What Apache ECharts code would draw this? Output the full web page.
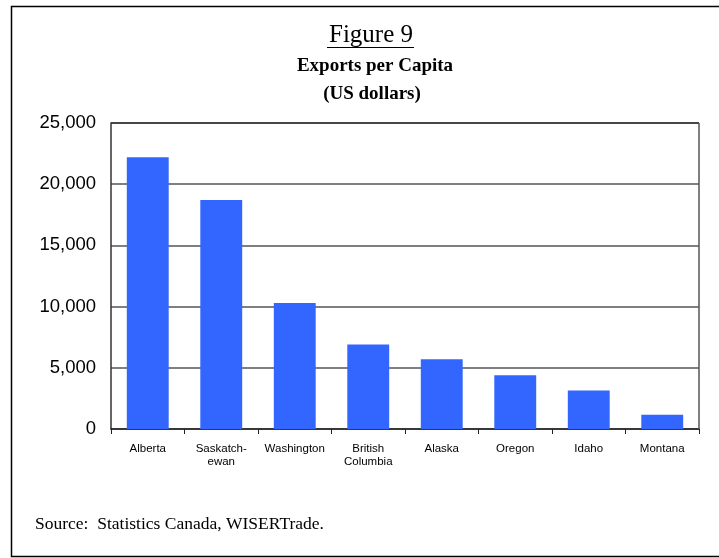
<!DOCTYPE html>
<html>
<head>
<meta charset="utf-8">
<script src="https://cdn.jsdelivr.net/npm/echarts@6/dist/echarts.min.js"></script>
<style>
html,body{margin:0;padding:0;background:#fff;}
#chart{width:719px;height:558px;}
</style>
</head>
<body>
<div id="chart"></div>
<script>
const categories = ['Alberta', 'Saskatch-\newan', 'Washington', 'British\nColumbia', 'Alaska', 'Oregon', 'Idaho', 'Montana'];
const exportsPerCapita = [22200, 18700, 10300, 6900, 5700, 4400, 3150, 1170];
const titleLine1 = 'Figure 9';
const titleLine2 = 'Exports per Capita';
const titleLine3 = '(US dollars)';
const sourceText = 'Source:  Statistics Canada, WISERTrade.';

const chart = echarts.init(document.getElementById('chart'), null, {renderer: 'canvas'});
const serif = '"Liberation Serif", "DejaVu Serif", serif';
const sans = '"Liberation Sans", Arial, sans-serif';

chart.setOption({
  animation: false,
  backgroundColor: '#fff',
  grid: {left: 111, right: 20, top: 123, bottom: 129, containLabel: false},
  graphic: [
    {type: 'rect', shape: {x: 11.5, y: 6.5, width: 720, height: 550}, style: {fill: 'none', stroke: '#000', lineWidth: 1.5}, silent: true},
    {type: 'text', style: {text: titleLine1, x: 371, y: 35.5, align: 'center', verticalAlign: 'middle', font: '25px ' + serif, fill: '#000'}},
    {type: 'line', shape: {x1: 327, y1: 47.5, x2: 414, y2: 47.5}, style: {stroke: '#000', lineWidth: 1}},
    {type: 'text', style: {text: titleLine2, x: 375, y: 66.5, align: 'center', verticalAlign: 'middle', font: 'bold 19px ' + serif, fill: '#000'}},
    {type: 'text', style: {text: titleLine3, x: 372, y: 94, align: 'center', verticalAlign: 'middle', font: 'bold 19px ' + serif, fill: '#000'}},
    {type: 'text', style: {text: sourceText, x: 35, y: 524, align: 'left', verticalAlign: 'middle', font: '17.5px ' + serif, fill: '#000'}},
    {type: 'line', shape: {x1: 111, y1: 123, x2: 699, y2: 123}, style: {stroke: '#333', lineWidth: 1.5}, z: 10},
    {type: 'line', shape: {x1: 699, y1: 123, x2: 699, y2: 429}, style: {stroke: '#555', lineWidth: 1.5}, z: 10}
  ],
  xAxis: {
    type: 'category',
    data: categories,
    axisLine: {show: true, lineStyle: {color: '#222', width: 1.5}},
    axisTick: {show: true, length: 5, interval: 0, lineStyle: {color: '#222'}},
    axisLabel: {interval: 0, margin: 14, color: '#000', fontSize: 11.5, fontFamily: sans, lineHeight: 12.5},
    splitLine: {show: false}
  },
  yAxis: {
    type: 'value',
    min: 0,
    max: 25000,
    interval: 5000,
    axisLine: {show: true, lineStyle: {color: '#333', width: 1.5}},
    axisTick: {show: false},
    axisLabel: {margin: 15, color: '#000', fontSize: 18.5, fontFamily: sans,
      formatter: v => v.toLocaleString('en-US')},
    splitLine: {show: true, lineStyle: {color: '#555', width: 1.5}}
  },
  series: [{
    type: 'bar',
    data: exportsPerCapita,
    barCategoryGap: '43%',
    itemStyle: {color: '#3366FF'}
  }]
});
</script>
</body>
</html>
